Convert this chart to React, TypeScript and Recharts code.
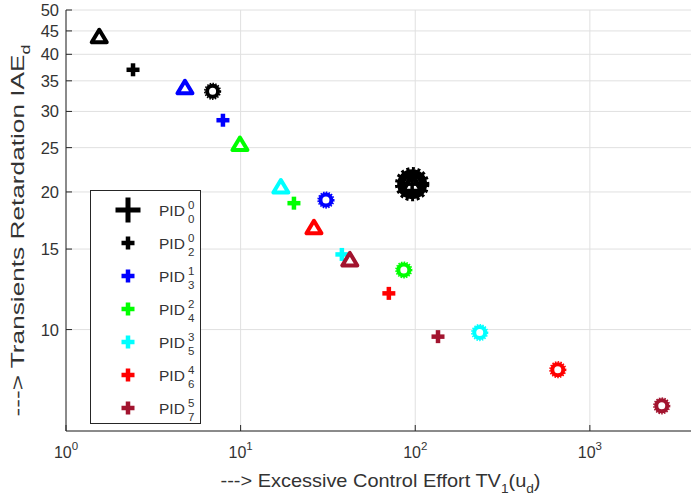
import React from 'react';
import { ScatterChart, Scatter, XAxis, YAxis, CartesianGrid, Legend } from 'recharts';

// every controller is plotted with the same three markers, drawn in this order
const markerKinds = ['circle', 'triangle', 'plus'];

const pid00TV = [96, 96, 96];
const pid00IAE = [20.8, 20.8, 20.8];
const pid02TV = [6.91, 1.55, 2.42];
const pid02IAE = [33.2, 43.7, 37.0];
const pid13TV = [30.8, 4.8, 7.92];
const pid13IAE = [19.2, 33.8, 28.7];
const pid24TV = [86, 9.91, 20.2];
const pid24IAE = [13.5, 25.4, 18.9];
const pid35TV = [234, 17.0, 38.0];
const pid35IAE = [9.85, 20.5, 14.6];
const pid46TV = [655, 26.3, 70.6];
const pid46IAE = [8.17, 16.7, 12.0];
const pid57TV = [2580, 42.2, 135];
const pid57IAE = [6.81, 14.2, 9.65];

const seriesSup = ['0', '0', '1', '2', '3', '4', '5'];
const seriesSub = ['0', '2', '3', '4', '5', '6', '7'];
const seriesColors = ['#000000', '#000000', '#0000ff', '#00ff00', '#00ffff', '#ff0000', '#a2142f'];

const xTicks = [1, 10, 100, 1000];
const yTicks = [10, 15, 20, 25, 30, 35, 40, 45, 50];

const tvSets = [pid00TV, pid02TV, pid13TV, pid24TV, pid35TV, pid46TV, pid57TV];
const iaeSets = [pid00IAE, pid02IAE, pid13IAE, pid24IAE, pid35IAE, pid46IAE, pid57IAE];

const series = tvSets.map((tv, i) => ({
  name: `PID${seriesSup[i]}${seriesSub[i]}`,
  color: seriesColors[i],
  scale: i === 0 ? 2 : 1,
  points: tv.map((x, j) => ({ tv: x, iae: iaeSets[i][j], kind: markerKinds[j] })),
}));

const TEXT = '#333333';
const AXIS = '#262626';
const FONT = '"Liberation Sans", Arial, Helvetica, sans-serif';

const PlusMark = ({ cx, cy, color, k, thin }: any) => {
  const half = k === 2 ? 12.5 : 6.5;
  const arm = thin ? 3.5 : k === 2 ? 5 : 4.5;
  return (
    <g>
      <rect x={cx - half} y={cy - arm / 2} width={half * 2} height={arm} fill={color} />
      <rect x={cx - arm / 2} y={cy - half} width={arm} height={half * 2} fill={color} />
    </g>
  );
};

const Marker = ({ cx, cy, kind, color, k }: any) => {
  if (cx == null || cy == null) return null;
  if (kind === 'plus') return <PlusMark cx={cx} cy={cy} color={color} k={k} thin={k === 2} />;
  if (kind === 'triangle') {
    const t = k === 2 ? 1.3 : 1;
    const pts = [
      [cx, cy - 7 * t],
      [cx - 7.5 * t, cy + 5.5 * t],
      [cx + 7.5 * t, cy + 5.5 * t],
    ]
      .map((p) => p.join(','))
      .join(' ');
    return <polygon points={pts} fill="#fff" stroke={color} strokeWidth={k === 2 ? 5 : 4} strokeLinejoin="round" />;
  }
  return (
    <g>
      <circle cx={cx} cy={cy} r={5.5 * k} fill="#fff" stroke={color} strokeWidth={4 * k} />
      <circle cx={cx} cy={cy} r={7.8 * k} fill="none" stroke={color} strokeWidth={1.6 * k} strokeDasharray={`${1.5 * k} ${1.3 * k}`} />
    </g>
  );
};

const BottomTick = ({ x, y, payload }: any) => {
  const exp = Math.round(Math.log10(payload.value));
  return (
    <g>
      <line x1={x} x2={x} y1={y} y2={y - 6} stroke={AXIS} />
      <text x={x} y={y + 27} textAnchor="middle" fontSize={16} fill={TEXT} fontFamily={FONT}>
        <tspan>10</tspan>
        <tspan dy={-8} fontSize={11.5}>{exp}</tspan>
      </text>
    </g>
  );
};

const TopTick = ({ x, y }: any) => <line x1={x} x2={x} y1={y} y2={y + 6} stroke={AXIS} />;

const LeftTick = ({ x, y, payload }: any) => (
  <g>
    <line x1={x} x2={x + 6} y1={y} y2={y} stroke={AXIS} />
    <text x={x - 7} y={y + 6} textAnchor="end" fontSize={16.5} fill={TEXT} fontFamily={FONT}>
      {payload.value}
    </text>
  </g>
);

const RightTick = ({ x, y }: any) => <line x1={x} x2={x - 6} y1={y} y2={y} stroke={AXIS} />;

const XLabel = ({ viewBox }: any) => {
  const cx = viewBox.x + viewBox.width / 2;
  return (
    <text
      x={cx}
      y={viewBox.y + 56}
      textAnchor="middle"
      fontSize={19}
      fill={TEXT}
      fontFamily={FONT}
      textLength={320}
      lengthAdjust="spacingAndGlyphs"
    >
      <tspan>---&gt; Excessive Control Effort TV</tspan>
      <tspan dy={6} fontSize={13}>1</tspan>
      <tspan dy={-6}>(u</tspan>
      <tspan dy={6} fontSize={13}>d</tspan>
      <tspan dy={-6}>)</tspan>
    </text>
  );
};

const YLabel = ({ viewBox }: any) => {
  const cy = viewBox.y + viewBox.height / 2 + 10;
  const cx = 24;
  return (
    <text
      x={cx}
      y={cy}
      textAnchor="middle"
      fontSize={19}
      fill={TEXT}
      fontFamily={FONT}
      textLength={372}
      lengthAdjust="spacingAndGlyphs"
      transform={`rotate(-90 ${cx} ${cy})`}
    >
      <tspan>---&gt; Transients Retardation IAE</tspan>
      <tspan dy={6} fontSize={13}>d</tspan>
    </text>
  );
};

const LegendBox = () => (
  <svg width={111} height={235} style={{ display: 'block' }}>
    <rect x={0.5} y={0.5} width={110} height={233} fill="#fff" stroke={AXIS} />
    {series.map((s, i) => {
      const y = 20 + 33 * i;
      return (
        <g key={s.name} fontFamily={FONT} fill={TEXT}>
          <PlusMark cx={38} cy={y} color={s.color} k={s.scale} />
          <text x={69} y={y + 6} fontSize={15.5}>PID</text>
          <text x={98} y={y - 1} fontSize={11.5}>{seriesSup[i]}</text>
          <text x={98} y={y + 13} fontSize={11.5}>{seriesSub[i]}</text>
        </g>
      );
    })}
  </svg>
);

export default function App() {
  return (
    <div style={{ position: 'absolute', left: 0, top: 0, width: 691, height: 496, overflow: 'hidden', background: '#fff' }}>
      <ScatterChart width={700} height={496} margin={{ top: 10, right: 5, bottom: 15, left: 0 }}>
        <CartesianGrid stroke="#e0e0e0" />
        <XAxis
          dataKey="tv"
          type="number"
          scale="log"
          domain={[1, 4000]}
          allowDataOverflow
          ticks={xTicks}
          interval={0}
          height={50}
          tickSize={0}
          tickMargin={0}
          stroke={AXIS}
          tick={<BottomTick />}
          label={<XLabel />}
        />
        <XAxis
          xAxisId="top"
          orientation="top"
          type="number"
          scale="log"
          domain={[1, 4000]}
          allowDataOverflow
          ticks={xTicks}
          interval={0}
          height={0}
          tickSize={0}
          tickMargin={0}
          stroke={AXIS}
          tick={<TopTick />}
        />
        <YAxis
          dataKey="iae"
          type="number"
          scale="log"
          domain={[6, 50]}
          allowDataOverflow
          ticks={yTicks}
          interval={0}
          width={66}
          tickSize={0}
          tickMargin={0}
          stroke={AXIS}
          tick={<LeftTick />}
          label={<YLabel />}
        />
        <YAxis
          yAxisId="right"
          orientation="right"
          type="number"
          scale="log"
          domain={[6, 50]}
          allowDataOverflow
          ticks={yTicks}
          interval={0}
          width={0}
          tickSize={0}
          tickMargin={0}
          stroke={AXIS}
          tick={<RightTick />}
        />
        <Legend
          layout="vertical"
          align="center"
          verticalAlign="middle"
          content={<LegendBox />}
          wrapperStyle={{ left: 90, top: 190, width: 111, height: 235 }}
        />
        {series.map((s) => (
          <Scatter
            key={s.name}
            name={s.name}
            data={s.points}
            fill={s.color}
            isAnimationActive={false}
            shape={(p: any) => <Marker cx={p.cx} cy={p.cy} kind={p.payload.kind} color={s.color} k={s.scale} />}
          />
        ))}
      </ScatterChart>
    </div>
  );
}
